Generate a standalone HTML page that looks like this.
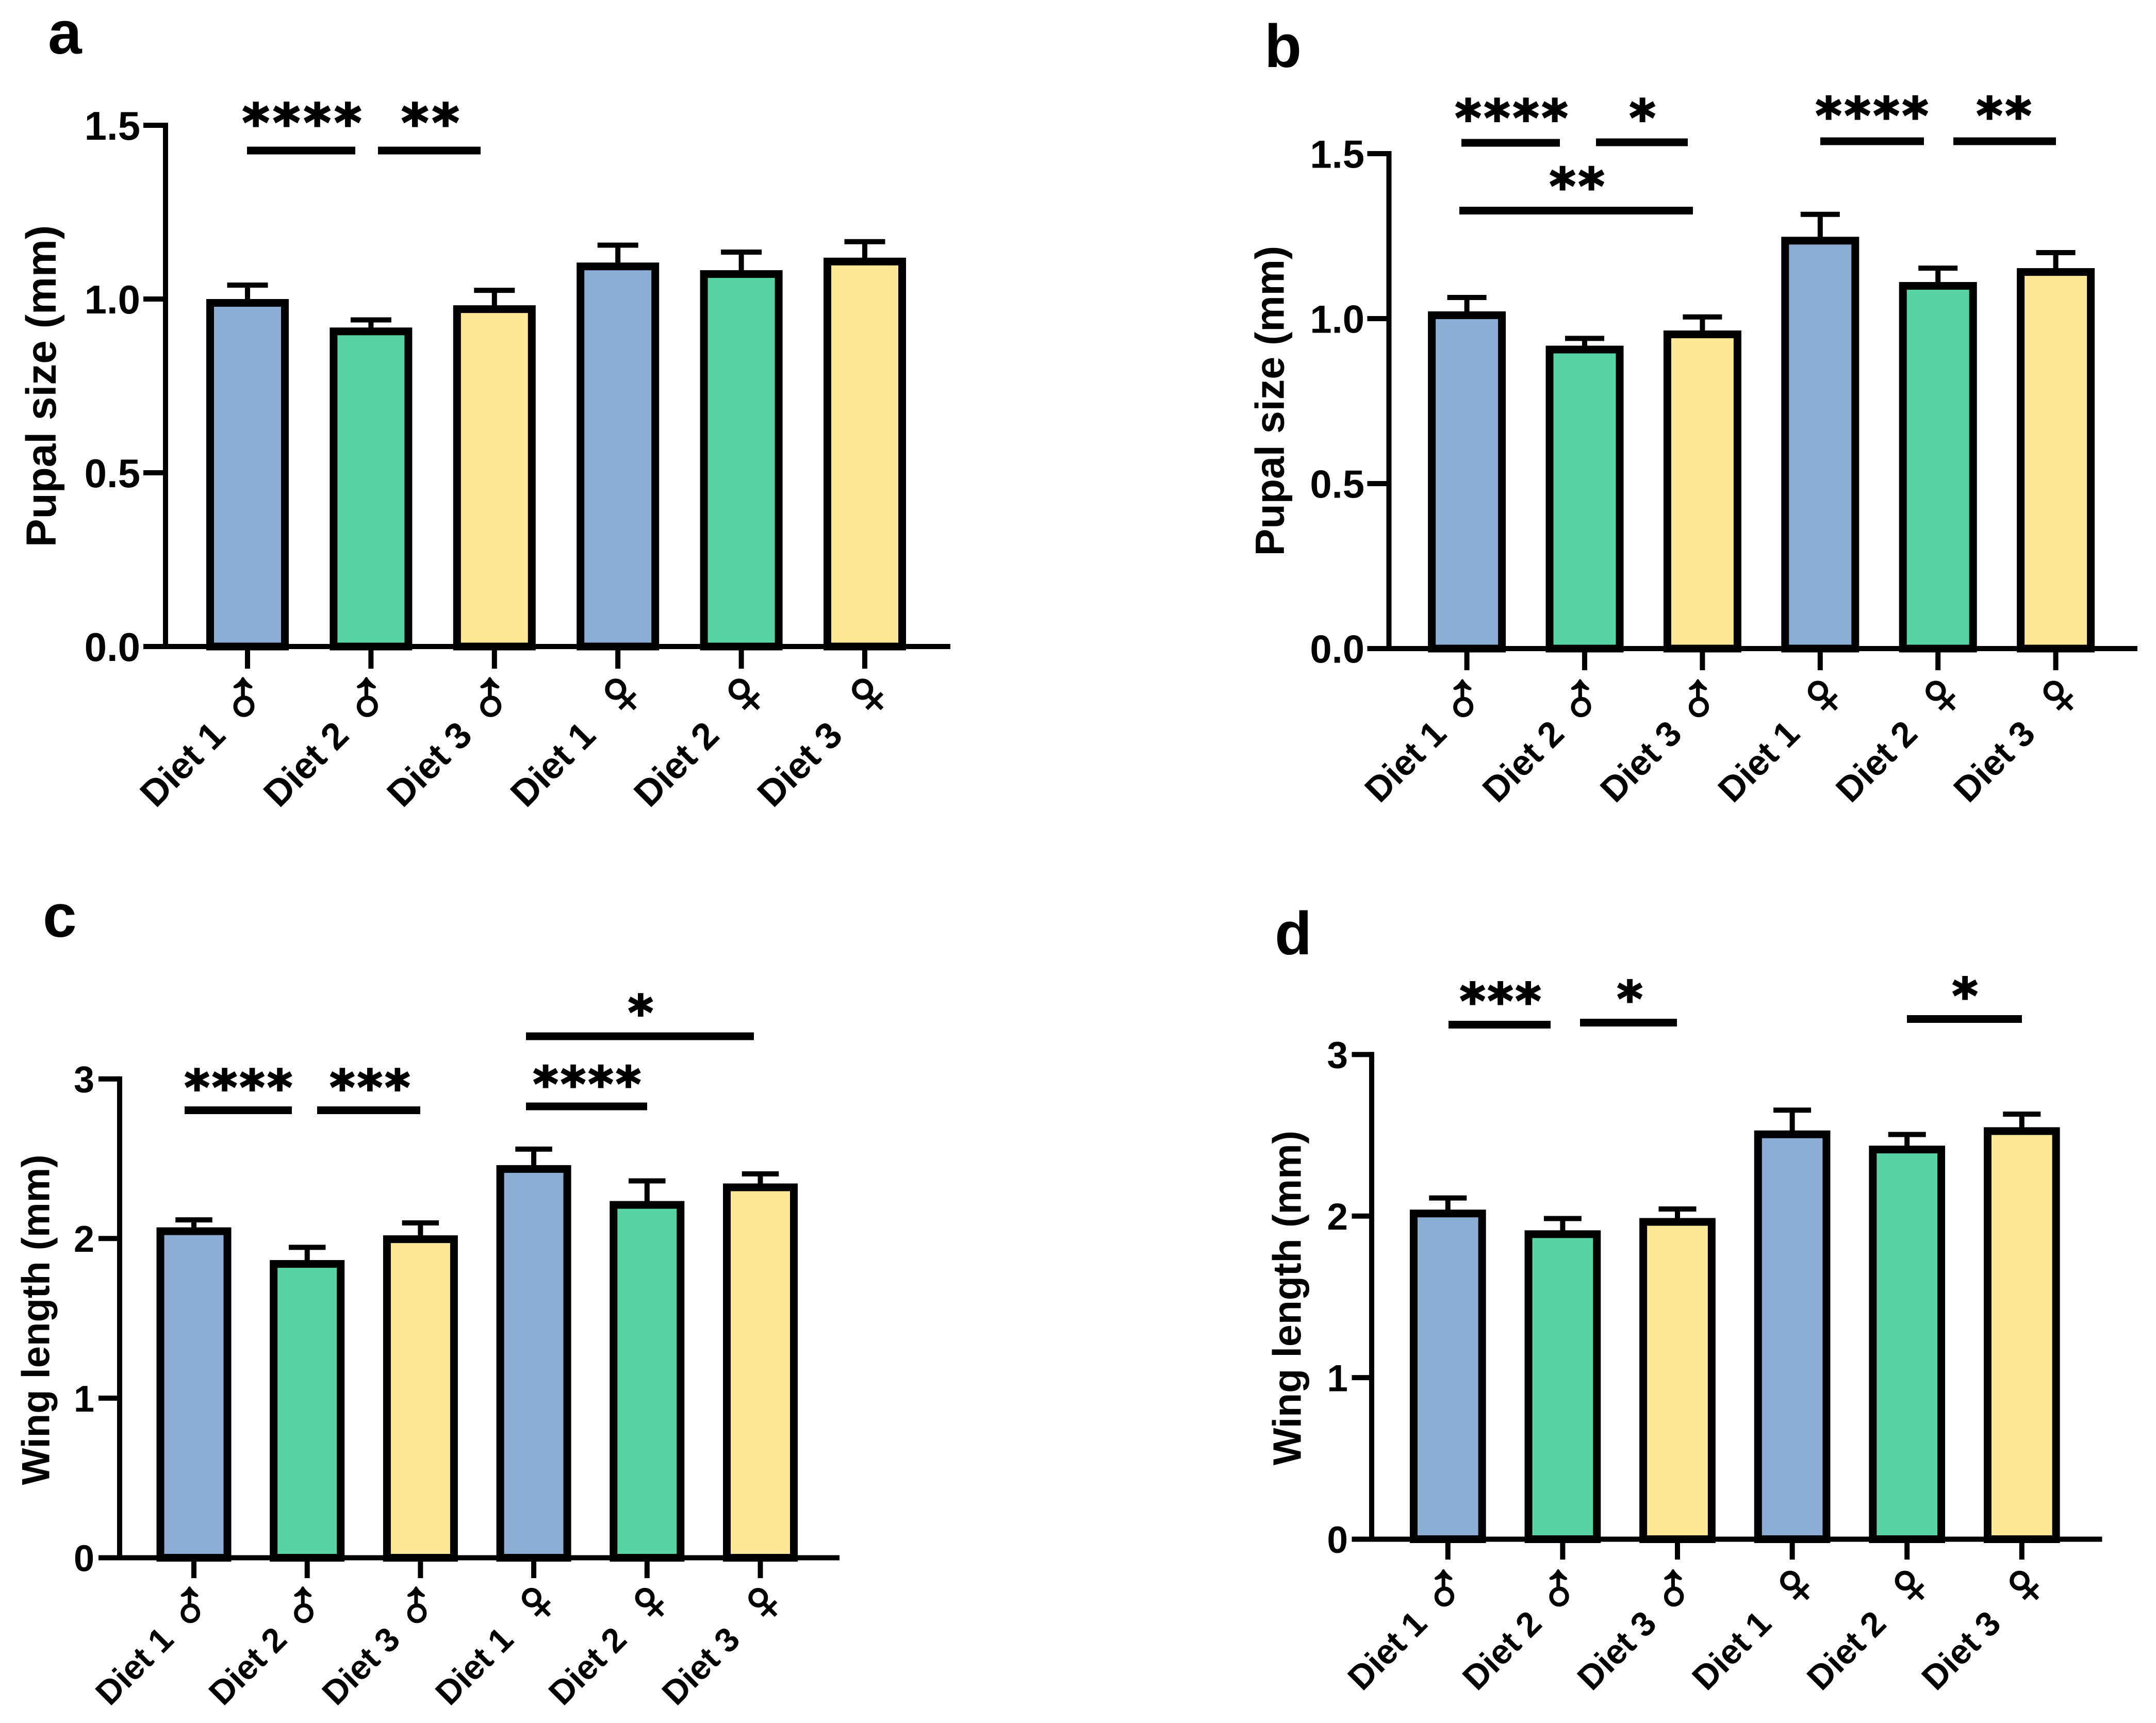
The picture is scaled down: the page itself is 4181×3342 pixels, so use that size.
<!DOCTYPE html>
<html lang="en">
<head>
<meta charset="utf-8">
<title>Pupal size and wing length by diet and sex</title>
<style>
html,body{margin:0;padding:0;background:#fff;}
svg{display:block;}
text{font-family:"Liberation Sans","DejaVu Sans",sans-serif;font-weight:bold;fill:#000;}
.stars{font-family:"DejaVu Sans","Liberation Sans",sans-serif;text-anchor:middle;stroke:#000;stroke-width:3px;}
.stars-a{font-size:100px;letter-spacing:7.2px;}
.stars-b{font-size:96px;letter-spacing:5.8px;}
.stars-c{font-size:92px;letter-spacing:5.4px;}
.stars-d{font-size:94px;letter-spacing:4.8px;}
.letter{font-size:118px;}
</style>
</head>
<body>
<svg id="figure" xmlns="http://www.w3.org/2000/svg" width="4181" height="3342" viewBox="0 0 4181 3342">
<rect x="0" y="0" width="4181" height="3342" fill="#fff"/>
<g id="panel-a">
  <text class="letter" x="93" y="104">a</text>
  <g>
    <rect x="479" y="284.5" width="210" height="15"/>
    <rect x="733" y="284.5" width="199" height="15"/>
    <text class="stars stars-a" x="589" y="273">****</text>
    <text class="stars stars-a" x="838" y="273">**</text>
  </g>
</g>
<g id="panel-b">
  <text class="letter" x="2452" y="130">b</text>
  <g>
    <rect x="2834" y="269.5" width="191" height="15"/>
    <rect x="3095" y="268.5" width="178" height="15"/>
    <rect x="2830" y="401" width="453" height="15"/>
    <rect x="3530" y="266.5" width="201" height="15"/>
    <rect x="3788" y="266.5" width="199" height="15"/>
    <text class="stars stars-b" x="2934" y="262.5">****</text>
    <text class="stars stars-b" x="3188" y="262.5">*</text>
    <text class="stars stars-b" x="3061" y="395">**</text>
    <text class="stars stars-b" x="3633" y="258">****</text>
    <text class="stars stars-b" x="3889" y="258">**</text>
  </g>
</g>
<g id="panel-c">
  <text class="letter" x="83" y="1817">c</text>
  <g>
    <rect x="358" y="2146" width="208" height="15"/>
    <rect x="615" y="2146" width="200" height="15"/>
    <rect x="1020" y="2138.5" width="235" height="15"/>
    <rect x="1020" y="2002.5" width="442" height="15"/>
    <text class="stars stars-c" x="465" y="2141">****</text>
    <text class="stars stars-c" x="720" y="2141">***</text>
    <text class="stars stars-c" x="1141" y="2134.5">****</text>
    <text class="stars stars-c" x="1245" y="1996">*</text>
  </g>
</g>
<g id="panel-d">
  <text class="letter" x="2472" y="1851">d</text>
  <g>
    <rect x="2809" y="1980" width="198" height="15"/>
    <rect x="3064" y="1976" width="188" height="15"/>
    <rect x="3698" y="1969" width="223" height="15"/>
    <text class="stars stars-d" x="2912" y="1974">***</text>
    <text class="stars stars-d" x="3163" y="1970">*</text>
    <text class="stars stars-d" x="3813" y="1964">*</text>
  </g>
</g>
</svg>
<script>
const categories = ["Diet 1", "Diet 2", "Diet 3", "Diet 1", "Diet 2", "Diet 3"];
const sexSymbols = ["\u2642", "\u2642", "\u2642", "\u2640", "\u2640", "\u2640"];
const barColors = ["#8BADD4", "#57D3A4", "#FEE796", "#8BADD4", "#57D3A4", "#FEE796"];

const aMeans = [1.00, 0.918, 0.982, 1.105, 1.083, 1.119];
const aUpper = [1.04, 0.94, 1.025, 1.155, 1.135, 1.165];
const aTicks = ["0.0", "0.5", "1.0", "1.5"];

const bMeans = [1.022, 0.918, 0.964, 1.248, 1.111, 1.153];
const bUpper = [1.064, 0.94, 1.005, 1.316, 1.153, 1.2];
const bTicks = ["0.0", "0.5", "1.0", "1.5"];

const cMeans = [2.07, 1.865, 2.02, 2.46, 2.235, 2.345];
const cUpper = [2.117, 1.945, 2.098, 2.56, 2.361, 2.405];
const cTicks = ["0", "1", "2", "3"];

const dMeans = [2.04, 1.912, 1.988, 2.53, 2.436, 2.55];
const dUpper = [2.112, 1.985, 2.044, 2.656, 2.505, 2.631];
const dTicks = ["0", "1", "2", "3"];

const NS = "http://www.w3.org/2000/svg";

function make(tag, parent, props) {
  const el = document.createElementNS(NS, tag);
  for (const k in props) el.setAttribute(k, props[k]);
  parent.appendChild(el);
  return el;
}

function drawPanel(id, means, upper, ticks, yTitle, g) {
  const root = document.getElementById("panel-" + id);
  const yMax = parseFloat(ticks[ticks.length - 1]);
  const yScale = function (v) { return g.base - (v / yMax) * (g.base - g.top); };
  const xScale = function (i) { return g.first + i * g.step; };
  const sw = 15;

  const bars = make("g", root, {});
  
  

  means.forEach(function (m, i) {
    const cx = xScale(i);
    const yTop = yScale(m);
    const yErr = yScale(upper[i]);

    const stem = make("line", bars, { x1: cx, x2: cx, y1: yTop + 4, y2: yErr, stroke: "#000", "stroke-width": 10 });
    
    

    const cap = make("line", bars, { x1: cx - g.capW / 2, x2: cx + g.capW / 2, y1: yErr, y2: yErr, stroke: "#000", "stroke-width": 10 });
    
    

    const bar = make("rect", bars, {
      x: cx - g.barW / 2 + sw / 2,
      y: yTop + sw / 2,
      width: g.barW - sw,
      height: g.base - yTop - sw / 2,
      fill: barColors[i],
      stroke: "#000",
      "stroke-width": sw
    });
    
    
  });

  const yAxis = make("line", root, { x1: g.axisX, x2: g.axisX, y1: g.top - 5, y2: g.base + 5, stroke: "#000", "stroke-width": 10 });
  
  

  const xAxis = make("line", root, { x1: g.axisLeft, x2: g.axisRight, y1: g.base, y2: g.base, stroke: "#000", "stroke-width": 10 });
  
  

  ticks.forEach(function (t) {
    const v = parseFloat(t);
    const y = yScale(v);
    if (v !== 0) {
      const tick = make("line", root, { x1: g.axisLeft, x2: g.axisX, y1: y, y2: y, stroke: "#000", "stroke-width": 10 });
      
      
    }
    const label = make("text", root, { x: g.tickEnd, y: y + g.tickFont * 0.36, "text-anchor": "end", "font-size": g.tickFont });
    
    
    label.textContent = t;
  });

  categories.forEach(function (c, i) {
    const cx = xScale(i);
    const tick = make("line", root, { x1: cx, x2: cx, y1: g.base, y2: g.tickBottom, stroke: "#000", "stroke-width": 10 });
    
    

    const lx = cx + g.labelDx;
    const ly = g.tickBottom + g.labelDy;
    const label = make("text", root, {
      x: lx, y: ly, "text-anchor": "start", "font-size": g.labelFont,
      transform: "rotate(-45 " + lx + " " + ly + ")"
    });
    
    
    label.textContent = c;

    const female = sexSymbols[i] === "\u2640";
    const along = (female ? 287 : 271) * g.symScale;
    const symbol = make("tspan", label, {
      x: lx + along,
      y: ly + 16 * g.symScale,
      "text-anchor": "middle",
      "font-size": 136 * g.symScale,
      "font-weight": "normal",
      stroke: "#000",
      "stroke-width": 3
    });
    
    
    symbol.textContent = sexSymbols[i];
  });

  const title = make("text", root, {
    x: g.titleX, y: g.titleY, "text-anchor": "middle", "font-size": g.titleFont,
    transform: "rotate(-90 " + g.titleX + " " + g.titleY + ")"
  });
  
  
  title.textContent = yTitle;
}

drawPanel("a", aMeans, aUpper, aTicks, "Pupal size (mm)", {
  base: 1254, top: 243, axisX: 321, axisLeft: 278, axisRight: 1843,
  first: 480, step: 239.4, barW: 160, capW: 79, tickBottom: 1297, tickEnd: 272,
  tickFont: 78, labelFont: 72, labelDx: -178, labelDy: 272, symScale: 1,
  titleX: 108, titleY: 749, titleFont: 82
});
drawPanel("b", bMeans, bUpper, bTicks, "Pupal size (mm)", {
  base: 1258, top: 298, axisX: 2693.5, axisLeft: 2651.5, axisRight: 4145,
  first: 2844.6, step: 228.4, barW: 151, capW: 76, tickBottom: 1300, tickEnd: 2646,
  tickFont: 76, labelFont: 69, labelDx: -169, labelDy: 260, symScale: 0.948,
  titleX: 2489.5, titleY: 777.5, titleFont: 79
});
drawPanel("c", cMeans, cUpper, cTicks, "Wing length (mm)", {
  base: 3021.5, top: 2092.7, axisX: 232, axisLeft: 191, axisRight: 1628,
  first: 376, step: 219.7, barW: 145, capW: 71.5, tickBottom: 3061, tickEnd: 183,
  tickFont: 72, labelFont: 66, labelDx: -163, labelDy: 250, symScale: 0.914,
  titleX: 95.4, titleY: 2560, titleFont: 76
});
drawPanel("d", dMeans, dUpper, dTicks, "Wing length (mm)", {
  base: 2985.5, top: 2045.4, axisX: 2660, axisLeft: 2621.5, axisRight: 4076.5,
  first: 2807.8, step: 222.6, barW: 147.7, capW: 73, tickBottom: 3025, tickEnd: 2614,
  tickFont: 73, labelFont: 67, labelDx: -166, labelDy: 257, symScale: 0.931,
  titleX: 2522.7, titleY: 2517.5, titleFont: 77
});
</script>
</body>
</html>
